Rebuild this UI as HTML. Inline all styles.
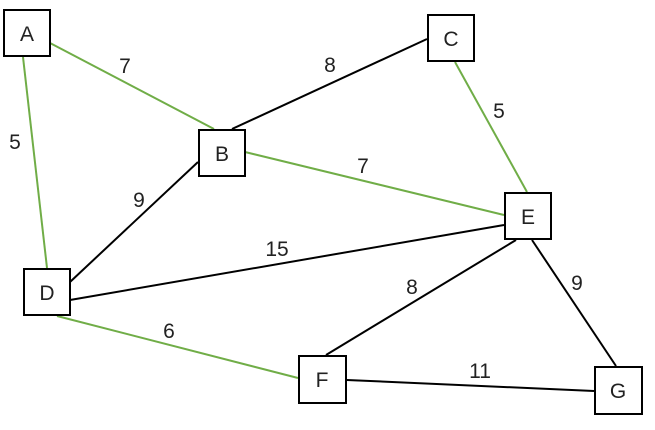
<!DOCTYPE html>
<html>
<head>
<meta charset="utf-8">
<style>
  html, body { margin: 0; padding: 0; background: #fff; }
  svg { display: block; }
  text { font-family: "Liberation Sans", "Noto Sans CJK SC", sans-serif; font-size: 21px; fill: #222; }
</style>
</head>
<body>
<svg width="655" height="430" viewBox="0 0 655 430" xmlns="http://www.w3.org/2000/svg">
  <rect width="655" height="430" fill="#fff"/>
  <!-- edges -->
  <g stroke-width="2" fill="none" stroke-linecap="butt">
    <line x1="50" y1="43" x2="214" y2="129" stroke="#70ad47"/>
    <line x1="23" y1="57" x2="47" y2="268" stroke="#70ad47"/>
    <line x1="232" y1="129" x2="427" y2="39" stroke="#000"/>
    <line x1="245" y1="152" x2="504" y2="215" stroke="#70ad47"/>
    <line x1="198" y1="162" x2="70" y2="282" stroke="#000"/>
    <line x1="455" y1="62" x2="527" y2="192" stroke="#70ad47"/>
    <line x1="70" y1="300" x2="504" y2="225" stroke="#000"/>
    <line x1="57" y1="316" x2="298" y2="378" stroke="#70ad47"/>
    <line x1="516" y1="240" x2="326" y2="355" stroke="#000"/>
    <line x1="532" y1="240" x2="616" y2="366" stroke="#000"/>
    <line x1="347" y1="380" x2="594" y2="391" stroke="#000"/>
  </g>
  <!-- nodes -->
  <g fill="#fff" stroke="#000" stroke-width="2">
    <rect x="4" y="10" width="46" height="46"/>
    <rect x="199" y="130" width="46" height="46"/>
    <rect x="428" y="15" width="46" height="46"/>
    <rect x="505" y="193" width="46" height="46"/>
    <rect x="24" y="269" width="46" height="46"/>
    <rect x="299" y="356" width="47" height="47"/>
    <rect x="595" y="367" width="47" height="47"/>
  </g>
  <g text-anchor="middle">
    <text x="27" y="41">A</text>
    <text x="222" y="161">B</text>
    <text x="451" y="46">C</text>
    <text x="528" y="224">E</text>
    <text x="47" y="300">D</text>
    <text x="322" y="387">F</text>
    <text x="618" y="398">G</text>
  </g>
  <!-- edge labels -->
  <g text-anchor="middle">
    <text x="125" y="73">7</text>
    <text x="15" y="149">5</text>
    <text x="330" y="72">8</text>
    <text x="499" y="118">5</text>
    <text x="363" y="173">7</text>
    <text x="139" y="207">9</text>
    <text x="277" y="256">15</text>
    <text x="169" y="338">6</text>
    <text x="412" y="294">8</text>
    <text x="577" y="290">9</text>
    <text x="480" y="378">11</text>
  </g>
</svg>
</body>
</html>
